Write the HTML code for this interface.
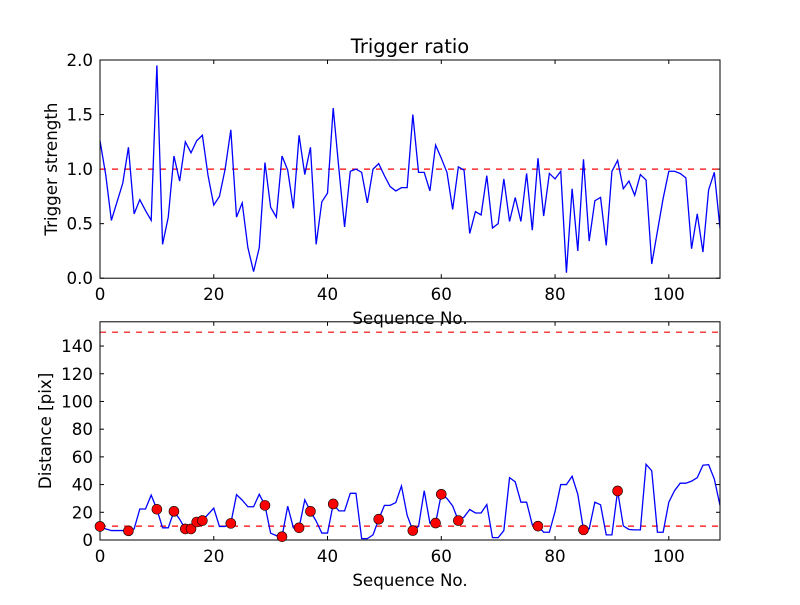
<!DOCTYPE html>
<html><head><meta charset="utf-8"><style>
body{margin:0;background:#fff;}
svg text{font-family:"DejaVu Sans","Liberation Sans",sans-serif;fill:#000;}
</style></head><body>
<svg id="chart" width="800" height="600" viewBox="0 0 800 600"></svg>
<script>
const seqMax = 109;
const triggerStrength = [1.26,0.95,0.53,0.70,0.87,1.20,0.59,0.72,0.62,0.53,1.95,0.31,0.56,1.12,0.89,1.25,1.15,1.26,1.31,0.94,0.67,0.75,1.00,1.36,0.56,0.69,0.28,0.06,0.28,1.06,0.65,0.56,1.12,0.99,0.64,1.31,0.95,1.20,0.31,0.70,0.78,1.56,1.00,0.47,0.98,1.00,0.97,0.69,1.00,1.05,0.94,0.84,0.80,0.83,0.83,1.50,0.97,0.97,0.80,1.22,1.10,0.97,0.63,1.02,0.99,0.41,0.61,0.58,0.94,0.46,0.50,0.91,0.52,0.74,0.52,0.96,0.44,1.10,0.57,0.96,0.91,0.98,0.05,0.82,0.25,1.09,0.34,0.71,0.74,0.30,0.98,1.08,0.82,0.89,0.76,0.95,0.90,0.13,0.43,0.73,0.98,0.98,0.96,0.92,0.27,0.59,0.24,0.81,0.97,0.46];
const distance = [9.8,8,6.8,6.8,6.8,6.6,8,22.4,22.4,32.4,22.2,8.8,8.8,20.7,15,8,8,13,14,18.5,23,9.8,9.8,12,32.7,28.8,24,24,33,25,4.9,3.2,2.4,24.4,8.8,8.8,29,20.7,13.7,5,5,26,21,21,33.7,33.7,1,1,3.7,15,25,25,27,39,17.8,6.8,9.8,35.6,12.2,12.2,33,30,24.6,14,16.6,22,19.5,19.5,25.6,1.7,1.7,6.8,45,42,27.3,27.3,11,10,5.6,5.6,20.5,40,40,46,33,7.3,8,27.3,25.4,3.7,3.7,35.4,10.2,7.6,7.3,7.3,54.6,50,5.6,5.6,27.3,35.6,41,41,42.5,45,54,54.4,44,25];
const markerIdx = [0,5,10,13,15,16,17,18,23,29,32,35,37,41,49,55,59,60,63,77,85,91];
const topYTicks = [0,0.5,1.0,1.5,2.0];
const topYLabels = ["0.0","0.5","1.0","1.5","2.0"];
const botYTicks = [0,20,40,60,80,100,120,140];
const xTicks = [0,20,40,60,80,100];
const topThreshold = 1.0;
const botThresholds = [10,150];

const NS="http://www.w3.org/2000/svg";
const svg=document.getElementById('chart');
function mk(tag,attrs,parent){const e=document.createElementNS(NS,tag);for(const k in attrs)e.setAttribute(k,attrs[k]);(parent||svg).appendChild(e);return e;}
const L=100,R=720;
const FS=16.7;
const sx=v=>L+(v/seqMax)*(R-L);
const T1=60,B1=278.2,T2=321.8,B2=540;
const sy1=v=>B1-(v/2)*(B1-T1);
const sy2=v=>B2-(v/157.5)*(B2-T2);

function axes(top,bot,name,yTicks,yLabels,sy,ylabel,ylabelX){
  const g=mk('g',{});
  
  
  yTicks.forEach((t,i)=>{
    const y=sy(t);
    mk('line',{x1:L,x2:L+4,y1:y,y2:y,stroke:'#000'},g);
    mk('line',{x1:R-4,x2:R,y1:y,y2:y,stroke:'#000'},g);
    const tx=mk('text',{x:L-7,y:y+6,'text-anchor':'end','font-size':FS},g);
    tx.textContent=yLabels[i];
    
    
  });
  xTicks.forEach(t=>{
    const x=sx(t);
    mk('line',{x1:x,x2:x,y1:bot,y2:bot-4,stroke:'#000'},g);
    mk('line',{x1:x,x2:x,y1:top,y2:top+4,stroke:'#000'},g);
    const tx=mk('text',{x:x,y:bot+22,'text-anchor':'middle','font-size':FS},g);
    tx.textContent=String(t);
    
    
  });
  const xl=mk('text',{x:410,y:bot+46,'text-anchor':'middle','font-size':FS},g);
  xl.textContent='Sequence No.';
  
  
  const yl=mk('text',{x:ylabelX,y:(top+bot)/2,'text-anchor':'middle','font-size':FS,transform:`rotate(-90 ${ylabelX} ${(top+bot)/2})`},g);
  yl.textContent=ylabel;
  
  
  return g;
}
function frame(top,bot){
  const f=mk('rect',{x:L,y:top,width:R-L,height:bot-top,fill:'none',stroke:'#000','stroke-width':1});
  
  
}

axes(T1,B1,'top-axes',topYTicks,topYLabels,sy1,'Trigger strength',57);
const th1=mk('line',{x1:L,x2:R,y1:sy1(topThreshold),y2:sy1(topThreshold),stroke:'#f00','stroke-dasharray':'6,6','stroke-width':1.2});


const p1=mk('polyline',{points:triggerStrength.map((v,i)=>sx(i)+','+sy1(v)).join(' '),fill:'none',stroke:'#0000ff','stroke-width':1.3});


frame(T1,B1);
const title=mk('text',{x:410,y:53,'text-anchor':'middle','font-size':19.5});
title.textContent='Trigger ratio';



axes(T2,B2,'bottom-axes',botYTicks,botYTicks.map(String),sy2,'Distance [pix]',51);
botThresholds.forEach(t=>{
  const l=mk('line',{x1:L,x2:R,y1:sy2(t),y2:sy2(t),stroke:'#f00','stroke-dasharray':'6,6','stroke-width':1.2});
  
  
});
const p2=mk('polyline',{points:distance.map((v,i)=>sx(i)+','+sy2(v)).join(' '),fill:'none',stroke:'#0000ff','stroke-width':1.3});


frame(T2,B2);
markerIdx.forEach(i=>{
  const c=mk('circle',{cx:sx(i),cy:sy2(distance[i]),r:5,fill:'#f00',stroke:'#000','stroke-width':0.6});
  
  
});
</script>
</body></html>
